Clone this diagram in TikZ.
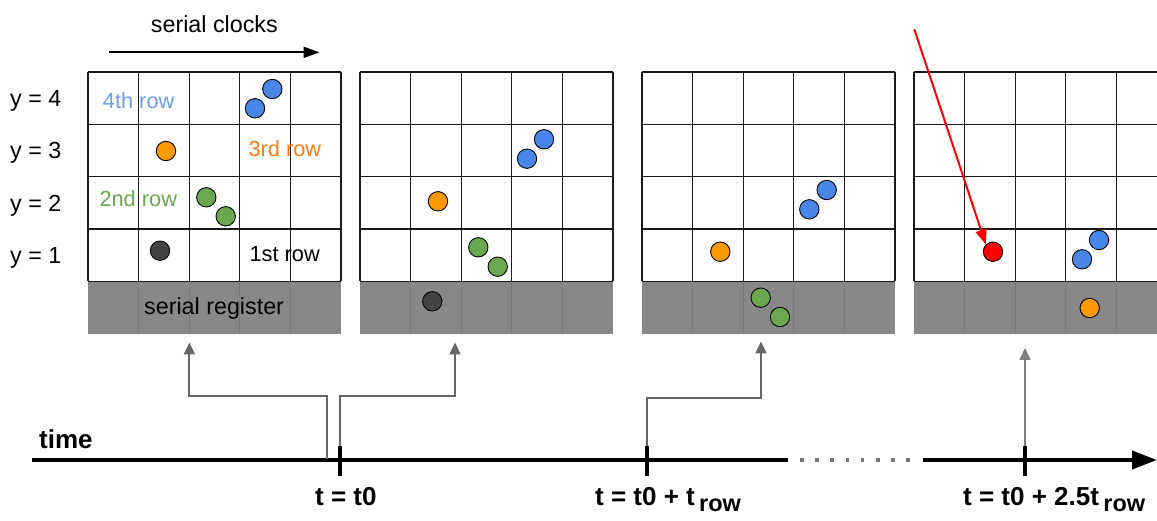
\documentclass[tikz,border=0pt]{standalone}
\usepackage{fontspec}
\setmainfont{Liberation Sans}
\usetikzlibrary{arrows.meta}
\definecolor{cblue}{HTML}{4A86E8}
\definecolor{corange}{HTML}{FF9900}
\definecolor{cgreen}{HTML}{6AA84F}
\definecolor{cdark}{HTML}{434343}
\definecolor{cred}{HTML}{FF0000}
\definecolor{regfill}{HTML}{888888}
\definecolor{reggridc}{HTML}{7A7A7A}
\definecolor{hookgray}{HTML}{666666}
\definecolor{tblue}{HTML}{6D9EEB}
\definecolor{torange}{HTML}{FF7B0F}
\definecolor{tgreen}{HTML}{6AA84F}
\definecolor{dotgray}{HTML}{777777}
\tikzset{
  gridline/.style={draw=black!90, line width=1.1pt},
  reggrid/.style={draw=reggridc, line width=0.8pt},
  reg/.style={fill=regfill, draw=none, minimum width=253pt, minimum height=52.7pt, inner sep=0pt},
  dot/.style={circle, draw=black, line width=0.9pt, minimum size=19.4pt, inner sep=0pt},
  lbl/.style={inner sep=0pt, font=\fontsize{23.3}{23.3}\selectfont},
  rowlbl/.style={inner sep=0pt, font=\fontsize{21.8}{21.8}\selectfont},
  blbl/.style={inner sep=0pt, font=\fontsize{26}{26}\selectfont\bfseries},
  hook/.style={draw=hookgray, line width=2pt, -{Triangle[length=12pt,width=11pt]}},
  axisline/.style={draw=black, line width=3.8pt},
  tickmark/.style={draw=black, line width=4pt},
}
\begin{document}
\begin{tikzpicture}[x=1pt,y=-1pt]
\useasboundingbox (0,0) rectangle (1157,521);
\clip (0,0) rectangle (1157,521);

% grids
\foreach \gx/\gn in {88/1,360/2,642/3,914/4}{
  \node[reg] (reg\gn) at ({\gx+126.5},307.65) {};
  \foreach \i in {1,...,4}{
    \draw[reggrid] ({\gx+\i*50.6},281.3) -- ({\gx+\i*50.6},334);
  }
  \foreach \i in {0,...,5}{
    \draw[gridline] ({\gx+\i*50.6},72) -- ({\gx+\i*50.6},281.3);
  }
  \foreach \j in {0,...,4}{
    \draw[gridline] (\gx,{72+\j*52.33}) -- ({\gx+253},{72+\j*52.33});
  }
}

% grid 1 labels
\node[rowlbl, text=tblue, anchor=base west] (l4) at (102.7,108.7) {4th row};
\node[rowlbl, text=torange, anchor=base west] (l3) at (248.3,156.7) {3rd row};
\node[rowlbl, text=tgreen, anchor=base west] (l2) at (99.3,206.7) {2nd row};
\node[rowlbl, anchor=base west] (l1) at (249.3,261.7) {1st row};
\node[lbl, anchor=base west] (lsr) at (144,315) {serial register};

% y labels
\node[lbl, anchor=base west] (y4) at (10,106.7) {y = 4};
\node[lbl, anchor=base west] (y3) at (10,159) {y = 3};
\node[lbl, anchor=base west] (y2) at (10,211.3) {y = 2};
\node[lbl, anchor=base west] (y1) at (10,263.5) {y = 1};

% serial clocks
\node[lbl, anchor=base west] (sc) at (150.7,32.7) {serial clocks};
\coordinate (sca) at (109,52.3);
\coordinate (scb) at (319.5,52.3);
\draw[draw=black, line width=2pt, -{Triangle[length=16pt,width=11pt]}] (sca) -- (scb);

% circles grid 1
\node[dot, fill=cblue] (g1b1) at (272.3,89) {};
\node[dot, fill=cblue] (g1b2) at (255,108.3) {};
\node[dot, fill=corange] (g1o) at (166,151) {};
\node[dot, fill=cgreen] (g1g1) at (206.3,197.3) {};
\node[dot, fill=cgreen] (g1g2) at (225.7,216.3) {};
\node[dot, fill=cdark] (g1d) at (160,250.7) {};
% circles grid 2
\node[dot, fill=cblue] (g2b1) at (544,139.3) {};
\node[dot, fill=cblue] (g2b2) at (527,158.7) {};
\node[dot, fill=corange] (g2o) at (438,201.3) {};
\node[dot, fill=cgreen] (g2g1) at (478.3,247.3) {};
\node[dot, fill=cgreen] (g2g2) at (497.7,266.7) {};
\node[dot, fill=cdark] (g2d) at (432.3,301.3) {};
% circles grid 3
\node[dot, fill=cblue] (g3b1) at (826.7,190) {};
\node[dot, fill=cblue] (g3b2) at (809.3,209.3) {};
\node[dot, fill=corange] (g3o) at (720.3,251.7) {};
\node[dot, fill=cgreen] (g3g1) at (760.7,297.7) {};
\node[dot, fill=cgreen] (g3g2) at (780,317) {};
% circles grid 4
\node[dot, fill=cblue] (g4b1) at (1099,240) {};
\node[dot, fill=cblue] (g4b2) at (1082,259.3) {};
\node[dot, fill=corange] (g4o) at (1089.7,308) {};
\node[dot, fill=cred] (g4r) at (993,251.7) {};

% red arrow
\coordinate (rs) at (914.3,29.3);
\draw[draw=cred, line width=2pt, -{Triangle[length=15pt,width=11pt]}] (rs) -- (g4r.north west);

% timeline
\coordinate (ax1s) at (32,460);
\coordinate (ax1e) at (788.3,460);
\coordinate (ax2s) at (922.7,460);
\coordinate (ax2e) at (1157,460);
\draw[axisline] (ax1s) -- (ax1e);
\draw[axisline, -{Triangle[length=25pt,width=18pt]}] (ax2s) -- (ax2e);
\foreach \d in {0,...,7}{
  \fill[dotgray] ({802+15.14*\d-1.8},458.2) rectangle ({802+15.14*\d+1.8},461.8);
}

% ticks
\coordinate (tk1t) at (340,446);
\coordinate (tk1b) at (340,476);
\coordinate (tk2t) at (647.3,446);
\coordinate (tk2b) at (647.3,476);
\coordinate (tk3t) at (1025,446);
\coordinate (tk3b) at (1025,476);
\draw[tickmark] (tk1t) -- (tk1b);
\draw[tickmark] (tk2t) -- (tk2b);
\draw[tickmark] (tk3t) -- (tk3b);

% hooks
\coordinate (h1s) at (326.7,458.5);
\coordinate (a1) at (189.4,342.5);
\coordinate (a2) at (455,342.5);
\coordinate (a3) at (761,341.5);
\coordinate (a4) at (1025,348);
\draw[hook] (h1s) -- ++(0,-62.8) -| (a1);
\draw[hook] (tk1t) -- ++(0,-50.3) -| (a2);
\draw[hook] (tk2t) -- ++(0,-47.7) -| (a3);
\draw[hook, line width=1.6pt, draw=hookgray!85] (tk3t) -- (a4);

% time labels
\node[blbl, anchor=base west] (tl) at (39,448) {time};
\node[blbl, anchor=base west] (t1) at (315,505) {t = t0};
\node[blbl, anchor=base west] (t2) at (595,505) {t = t0 + t\,\raisebox{-6.7pt}{\fontsize{23.5}{23.5}\selectfont row}};
\node[blbl, anchor=base west] (t3) at (963,505) {t = t0 + 2.5t\,\raisebox{-6.7pt}{\fontsize{23.5}{23.5}\selectfont row}};
\end{tikzpicture}
\end{document}
